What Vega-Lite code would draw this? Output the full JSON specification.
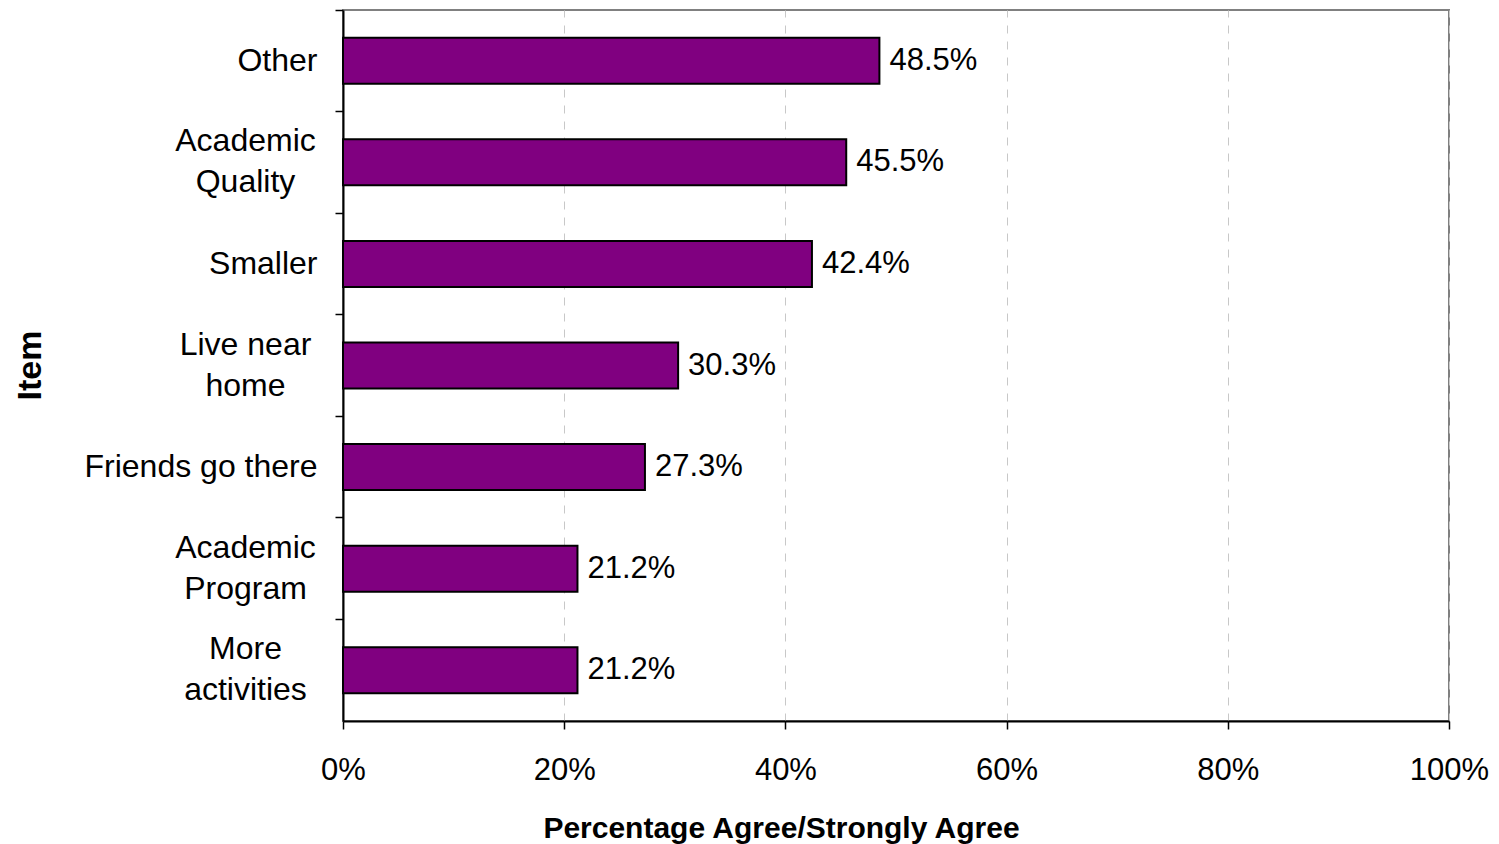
{
  "$schema": "https://vega.github.io/schema/vega-lite/v6.json",
  "width": 1106,
  "height": 711,
  "autosize": {"type": "none"},
  "padding": {"left": 343, "top": 10, "right": 50, "bottom": 123},
  "background": "white",
  "config": {
    "font": "Liberation Sans",
    "view": {"stroke": "#808080", "strokeWidth": 2},
    "axis": {"labelFont": "Liberation Sans", "titleFont": "Liberation Sans"}
  },
  "data": {
    "values": [
      {"item": "Other", "pct": 0.485},
      {"item": "Academic|Quality", "pct": 0.455},
      {"item": "Smaller", "pct": 0.424},
      {"item": "Live near|home", "pct": 0.303},
      {"item": "Friends go there", "pct": 0.273},
      {"item": "Academic|Program", "pct": 0.212},
      {"item": "More|activities", "pct": 0.212}
    ]
  },
  "encoding": {
    "y": {
      "field": "item",
      "type": "nominal",
      "sort": null,
      "scale": {"paddingInner": 0, "paddingOuter": 0},
      "axis": {
        "title": "Item",
        "titleFontSize": 34,
        "titleFontWeight": "bold",
        "titleX": -313,
        "titleY": 355,
        "titleAngle": -90,
        "titleAlign": "center",
        "titleBaseline": "middle",
        "labelFontSize": 32,
        "labelColor": "#000",
        "labelLimit": 400,
        "labelPadding": {"condition": {"test": "indexof(datum.value, '|') >= 0", "value": 90}, "value": 18},
        "labelAlign": {"condition": {"test": "indexof(datum.value, '|') >= 0", "value": "center"}, "value": "right"},
        "labelOffset": {"condition": {"test": "indexof(datum.value, '|') >= 0", "value": -21}, "value": 0},
        "labelLineHeight": 41,
        "labelExpr": "split(datum.label, '|')",
        "bandPosition": 0,
        "tickSize": 8,
        "tickColor": "#000",
        "tickWidth": 1.5,
        "domainColor": "#000",
        "domainWidth": 2,
        "grid": false
      }
    }
  },
  "layer": [
    {
      "mark": {"type": "bar", "color": "#800080", "stroke": "#000", "strokeWidth": 2, "height": {"band": 0.453}},
      "encoding": {
        "x": {
          "field": "pct",
          "type": "quantitative",
          "scale": {"domain": [0, 1], "nice": false},
          "axis": {
            "title": "Percentage Agree/Strongly Agree",
            "titleFontSize": 30,
            "titleFontWeight": "bold",
            "titleX": 438,
            "titleY": 107,
            "titleBaseline": "middle",
            "titleAlign": "center",
            "format": ".0%",
            "values": [0, 0.2, 0.4, 0.6, 0.8, 1],
            "labelFontSize": 31,
            "labelColor": "#000",
            "labelPadding": 26,
            "labelFlush": false,
            "labelOverlap": false,
            "tickSize": 8,
            "tickColor": "#000",
            "tickWidth": 1.5,
            "domainColor": "#000",
            "domainWidth": 2,
            "grid": true,
            "gridColor": "#c8c8c8",
            "gridDash": [8, 8],
            "gridWidth": 1
          }
        }
      }
    },
    {
      "mark": {"type": "text", "align": "left", "baseline": "middle", "dx": 10, "fontSize": 31, "color": "#000"},
      "encoding": {
        "x": {"field": "pct", "type": "quantitative"},
        "text": {"field": "pct", "type": "quantitative", "format": ".1%"}
      }
    }
  ]
}
